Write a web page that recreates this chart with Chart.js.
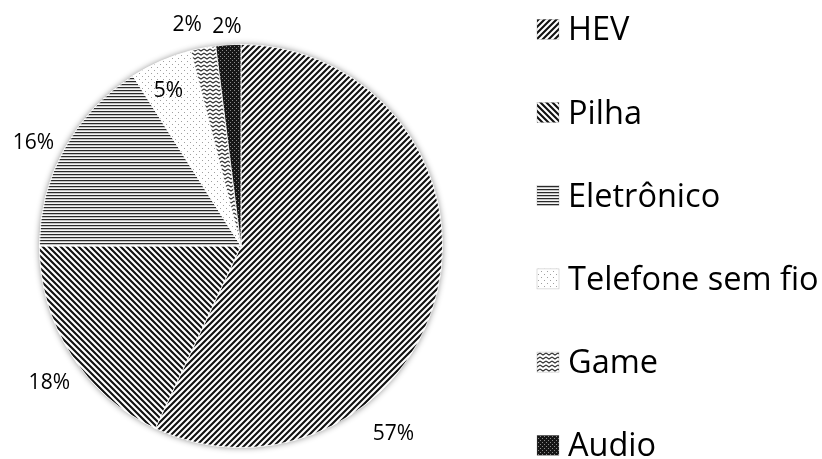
<!DOCTYPE html>
<html>
<head>
<meta charset="utf-8">
<script src="https://cdn.jsdelivr.net/npm/chart.js@4.4.1/dist/chart.umd.min.js"></script>
<style>
  html, body { margin: 0; padding: 0; background: #fff; }
  #wrap { width: 822px; height: 459px; }
</style>
</head>
<body>
<div id="wrap"><canvas id="grafico" width="822" height="459"></canvas></div>
<script>
const categorias = ["HEV", "Pilha", "Eletrônico", "Telefone sem fio", "Game", "Audio"];
const valores = [57, 18, 16, 5, 2, 2];
const rotulos = ["57%", "18%", "16%", "5%", "2%", "2%"];
// onde cada rótulo fica: fração do ângulo da fatia e fator do raio
const rotuloFracao = [0.687, 0.45, 0.46, 0.41, 0.1, 0.49];
const rotuloRaio = [1.20, 1.17, 1.15, 0.85, 1.13, 1.086];

const fonte = "'Open Sans', 'Liberation Sans', sans-serif";

function tile(w, h, desenha) {
  const c = document.createElement("canvas");
  c.width = w; c.height = h;
  const ctx = c.getContext("2d");
  desenha(ctx, w, h);
  return ctx.createPattern(c, "repeat");
}

// padrões de preenchimento (estilo Excel)
const padraoHEV = tile(6, 6, (ctx, s) => {
  ctx.fillStyle = "#fff"; ctx.fillRect(0, 0, s, s);
  ctx.strokeStyle = "#111"; ctx.lineWidth = 2.1;
  ctx.beginPath();
  ctx.moveTo(0, s); ctx.lineTo(s, 0);
  ctx.moveTo(-1, 1); ctx.lineTo(1, -1);
  ctx.moveTo(s - 1, s + 1); ctx.lineTo(s + 1, s - 1);
  ctx.stroke();
});
const padraoPilha = tile(6, 6, (ctx, s) => {
  ctx.fillStyle = "#fff"; ctx.fillRect(0, 0, s, s);
  ctx.strokeStyle = "#111"; ctx.lineWidth = 2.1;
  ctx.beginPath();
  ctx.moveTo(0, 0); ctx.lineTo(s, s);
  ctx.moveTo(-1, s - 1); ctx.lineTo(1, s + 1);
  ctx.moveTo(s - 1, -1); ctx.lineTo(s + 1, 1);
  ctx.stroke();
});
const padraoEletronico = tile(8, 3, (ctx, w, h) => {
  ctx.fillStyle = "#f6f6f6"; ctx.fillRect(0, 0, w, h);
  ctx.fillStyle = "#2a2a2a"; ctx.fillRect(0, 0, w, 1);
  ctx.fillStyle = "#c4c4c4"; ctx.fillRect(0, 1, w, 1);
});
const padraoTelefone = tile(6, 6, (ctx, s) => {
  ctx.fillStyle = "#fff"; ctx.fillRect(0, 0, s, s);
  ctx.fillStyle = "#a0a0a0";
  ctx.fillRect(1, 1, 1, 1); ctx.fillRect(4, 4, 1, 1);
});
const padraoGame = tile(6, 4, (ctx, w, h) => {
  ctx.fillStyle = "#fff"; ctx.fillRect(0, 0, w, h);
  ctx.strokeStyle = "#333"; ctx.lineWidth = 1.1;
  ctx.beginPath();
  ctx.moveTo(0, 1); ctx.lineTo(3, 3); ctx.lineTo(6, 1);
  ctx.stroke();
});
const padraoAudio = tile(4, 4, (ctx, s) => {
  ctx.fillStyle = "#161616"; ctx.fillRect(0, 0, s, s);
  ctx.fillStyle = "#8a8a8a";
  ctx.fillRect(0, 0, 1, 1); ctx.fillRect(2, 2, 1, 1);
});
const padroes = [padraoHEV, padraoPilha, padraoEletronico, padraoTelefone, padraoGame, padraoAudio];

// sombra leve em volta da pizza
const sombraPizza = {
  id: "sombraPizza",
  beforeDatasetsDraw(chart) {
    const arco = chart.getDatasetMeta(0).data[0];
    if (!arco) return;
    const ctx = chart.ctx;
    ctx.save();
    ctx.shadowColor = "rgba(0,0,0,0.45)";
    ctx.shadowBlur = 6;
    ctx.fillStyle = "#fff";
    ctx.beginPath();
    ctx.arc(arco.x, arco.y, arco.outerRadius, 0, Math.PI * 2);
    ctx.fill();
    ctx.restore();
  }
};

// rótulos de porcentagem
const rotulosPizza = {
  id: "rotulosPizza",
  afterDatasetsDraw(chart) {
    const ctx = chart.ctx;
    ctx.save();
    ctx.font = "21px " + fonte;
    ctx.fillStyle = "#000";
    ctx.textAlign = "center";
    ctx.textBaseline = "middle";
    chart.getDatasetMeta(0).data.forEach((arco, i) => {
      const ang = arco.startAngle + (arco.endAngle - arco.startAngle) * rotuloFracao[i];
      const r = arco.outerRadius * rotuloRaio[i];
      ctx.fillText(rotulos[i], arco.x + Math.cos(ang) * r, arco.y + Math.sin(ang) * r);
    });
    ctx.restore();
  }
};

// legenda vertical à direita, espaçada como no original
const legendaDireita = {
  id: "legendaDireita",
  afterDraw(chart) {
    const ctx = chart.ctx;
    const area = chart.chartArea;
    const bg = chart.data.datasets[0].backgroundColor;
    const x = area.right + 55;
    const passo = 83.2;
    const y0 = 29.3;
    ctx.save();
    ctx.font = "32.5px " + fonte;
    ctx.textAlign = "left";
    ctx.textBaseline = "alphabetic";
    chart.data.labels.forEach((txt, i) => {
      const cy = y0 + i * passo;
      ctx.fillStyle = bg[i];
      ctx.fillRect(x, cy - 10, 22, 20);
      ctx.strokeStyle = "rgba(120,120,120,0.5)";
      ctx.lineWidth = 0.5;
      ctx.strokeRect(x, cy - 10, 22, 20);
      ctx.fillStyle = "#000";
      ctx.fillText(txt, x + 31, cy + 11);
    });
    ctx.restore();
  }
};

new Chart(document.getElementById("grafico"), {
  type: "pie",
  data: {
    labels: categorias,
    datasets: [{
      data: valores,
      backgroundColor: padroes,
      borderColor: "#fff",
      borderWidth: 0.8
    }]
  },
  options: {
    responsive: false,
    animation: false,
    layout: { padding: { top: 44, bottom: 11, left: 0, right: 340 } },
    plugins: {
      tooltip: { enabled: false },
      legend: { display: false }
    }
  },
  plugins: [sombraPizza, rotulosPizza, legendaDireita]
});
</script>
</body>
</html>
